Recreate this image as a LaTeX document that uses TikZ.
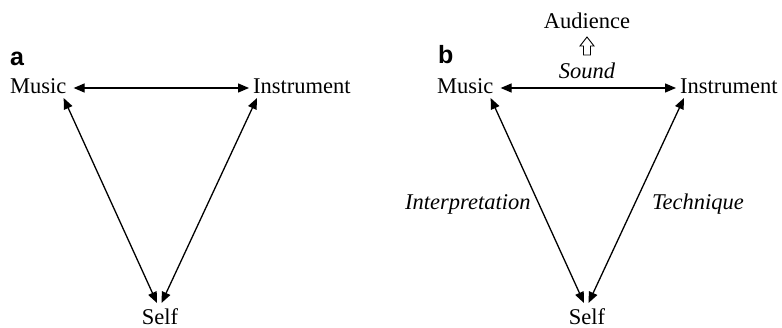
\documentclass[tikz,border=0pt]{standalone}
\usepackage{fontspec}
\setmainfont{Liberation Serif}
\newfontfamily\labfont{Liberation Sans}
\usetikzlibrary{arrows.meta}
\begin{document}
\begin{tikzpicture}[x=1pt,y=-1pt,
  txt/.style={inner sep=0pt,font=\fontsize{22.5}{27}\selectfont},
  itx/.style={txt,font=\fontsize{22.5}{27}\selectfont\itshape},
  panel/.style={inner sep=0pt,font=\fontsize{25}{30}\selectfont\labfont\bfseries},
  dbl/.style={line width=1.3pt,{Triangle[length=11pt,width=9pt]}-{Triangle[length=11pt,width=9pt]}},
  hollow/.style={line width=0.9pt,line join=miter}]
\useasboundingbox (0,0) rectangle (782,327);
% panel a
\node[panel,anchor=base west] (la) at (10,65) {a};
\node[txt,anchor=base west] (Ma) at (10,93) {Music};
\node[txt,anchor=base west] (Ia) at (253,93) {Instrument};
\node[txt,anchor=base] (Sa) at (160,324) {Self};
\draw[dbl] ([xshift=7pt,yshift=5pt]Ma.base east) -- ([xshift=-4pt,yshift=5pt]Ia.base west);
\draw[dbl] ([xshift=-3pt,yshift=-5pt]Ma.base east) -- ([xshift=-3pt,yshift=21pt]Sa.base);
\draw[dbl] ([xshift=4pt,yshift=-5pt]Ia.base west) -- ([xshift=1.5pt,yshift=21pt]Sa.base);
% panel b
\node[panel,anchor=base west] (lb) at (438,63) {b};
\node[txt,anchor=base west] (Mb) at (437,93) {Music};
\node[txt,anchor=base west] (Ib) at (680,93) {Instrument};
\node[txt,anchor=base] (Sb) at (587,324) {Self};
\node[txt,anchor=base] (Au) at (587,28) {Audience};
\node[itx,anchor=base] (So) at (587,78) {Sound};
\node[itx,anchor=base west] (In) at (405,209) {Interpretation};
\node[itx,anchor=base west] (Te) at (652,209) {Technique};
\draw[dbl] ([xshift=7pt,yshift=5pt]Mb.base east) -- ([xshift=-4pt,yshift=5pt]Ib.base west);
\draw[dbl] ([xshift=-3pt,yshift=-5pt]Mb.base east) -- ([xshift=-3pt,yshift=21pt]Sb.base);
\draw[dbl] ([xshift=4pt,yshift=-5pt]Ib.base west) -- ([xshift=1.5pt,yshift=21pt]Sb.base);
\coordinate (hc) at (587,46);
\draw[hollow] ([shift={(0,-9)}]hc) -- ([shift={(7,0)}]hc) -- ([shift={(3.5,0)}]hc) -- ([shift={(3.5,9)}]hc)
  -- ([shift={(-3.5,9)}]hc) -- ([shift={(-3.5,0)}]hc) -- ([shift={(-7,0)}]hc) -- cycle;
\end{tikzpicture}
\end{document}
